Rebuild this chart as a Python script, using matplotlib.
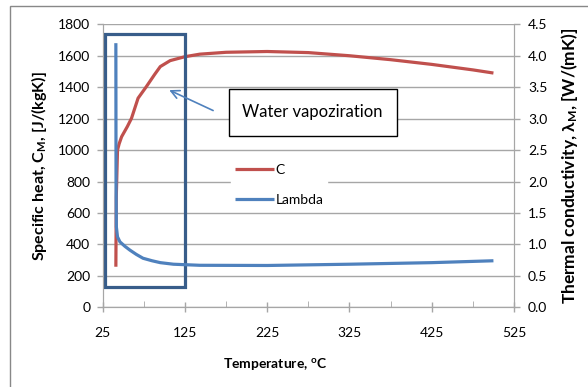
import matplotlib.pyplot as plt
from matplotlib.patches import Rectangle

plt.rcParams['font.family'] = ['Lato', 'DejaVu Sans']
plt.rcParams['mathtext.default'] = 'regular'

# specific heat C (left axis), J/(kgK)
temp_c = [41, 41.5, 43, 45, 48, 55, 60, 68, 78, 88, 95, 107, 125, 143, 175, 225,
          275, 325, 375, 425, 475, 500]
cap_c = [258, 700, 1000, 1040, 1085, 1150, 1202, 1330, 1403, 1480, 1531, 1569, 1594,
         1610, 1622, 1627, 1620, 1600, 1575, 1545, 1510, 1490]

# thermal conductivity lambda (right axis), W/(mK)
temp_l = [41, 41.2, 41.6, 43, 46, 52, 58, 66, 74, 85, 95, 111, 143, 225, 325, 425, 500]
lam = [4.2, 2.0, 1.28, 1.12, 1.04, 0.97, 0.91, 0.84, 0.78, 0.74, 0.71, 0.685, 0.668,
       0.665, 0.685, 0.71, 0.74]

x_ticks = [25, 125, 225, 325, 425, 525]
x_minor = [75, 175, 275, 375, 475]

red = '#C0504D'
blue = '#4F81BD'
grey = '#A6A6A6'

# axes box in pixels of the original picture
L, R, T, B = 102.7, 514, 24.3, 307.3
W, H = 588, 387

fig = plt.figure(figsize=(5.88, 3.87), dpi=100)
ax = fig.add_axes([L / W, 1 - B / H, (R - L) / W, (B - T) / H])
ax2 = ax.twinx()

l1, = ax.plot(temp_c, cap_c, color=red, lw=2.3, label='C', solid_capstyle='butt')
l2, = ax2.plot(temp_l, lam, color=blue, lw=2.3, label='Lambda', solid_capstyle='butt')

ax.set_xlim(25, 525)
ax.set_ylim(0, 1800)
ax2.set_ylim(0, 4.5)
ax.set_yticks(range(0, 1801, 200))
ax2.set_yticks([i * 0.5 for i in range(10)])
ax2.set_yticklabels([f'{i * 0.5:.1f}' for i in range(10)])
ax.set_xticks(x_ticks)
ax.set_xticks(x_minor, minor=True)

for a in (ax, ax2):
    for s in a.spines.values():
        s.set_color(grey)
    a.spines['top'].set_visible(False)
    a.tick_params(labelsize=10, colors=grey, labelcolor='black', width=1)
ax.tick_params(axis='x', which='major', direction='inout', length=7, pad=11)
ax.tick_params(axis='x', which='minor', direction='in', length=4, color=grey)
ax.tick_params(axis='y', direction='out', length=4, pad=5)
ax2.tick_params(axis='y', direction='out', length=4, pad=6)

ax.grid(axis='y', color=grey, lw=1)
ax.set_axisbelow(True)


def fx(px):
    return (px - L) / (R - L)


def fy(py):
    return (B - py) / (B - T)


ax.set_xlabel('Temperature, $^{o}$C', fontsize=10, fontweight='bold')
ax.xaxis.set_label_coords(fx(275), fy(356))
ax.set_ylabel('Specific heat, C$_{M}$, [J/(kgK)]', fontsize=11.5, fontweight='bold')
ax.yaxis.set_label_coords(fx(49), 0.5)
ax2.set_ylabel('Thermal conductivity, λ$_{M}$, [W/(mK)]', fontsize=12.5,
               fontweight='bold')
ax2.yaxis.set_label_coords(fx(559), 0.5)

# highlight box around the vaporisation zone
ax.add_patch(Rectangle((27.8, 127), 125.3 - 27.8, 1739 - 127, fill=False,
                       ec='#385D8A', lw=2.3, zorder=10, clip_on=False))

# annotation box and arrow
ax.add_patch(Rectangle((178.8, 1092), 383 - 178.8, 1387 - 1092, fc='white', ec='black',
                       lw=1, zorder=11))
ax.text(194, 1240, 'Water vapoziration', fontsize=12, va='center', ha='left', zorder=12)
ax.annotate('', xy=(102.8, 1389), xytext=(162.3, 1244),
            arrowprops=dict(arrowstyle='->', color=blue, lw=1.2, mutation_scale=15),
            zorder=12)

leg = ax.legend(handles=[l1, l2], loc='upper left', frameon=True, fontsize=10,
                bbox_to_anchor=(fx(231), fy(160)),
                handlelength=2.8, handletextpad=0.1, labelspacing=1.3,
                borderpad=0.3, borderaxespad=0)
leg.get_frame().set_edgecolor('white')
leg.get_frame().set_facecolor('white')
leg.get_frame().set_alpha(1)
leg.get_frame().set_boxstyle('square', pad=0)
leg.set_zorder(9)

# outer chart frame (partly cut off in the original)
fig.add_artist(Rectangle((10 / W, -0.5), 2, 1.5 - 6 / H, fill=False, ec='#888888',
                         lw=1, transform=fig.transFigure))

fig.savefig('out.png', dpi=100)
